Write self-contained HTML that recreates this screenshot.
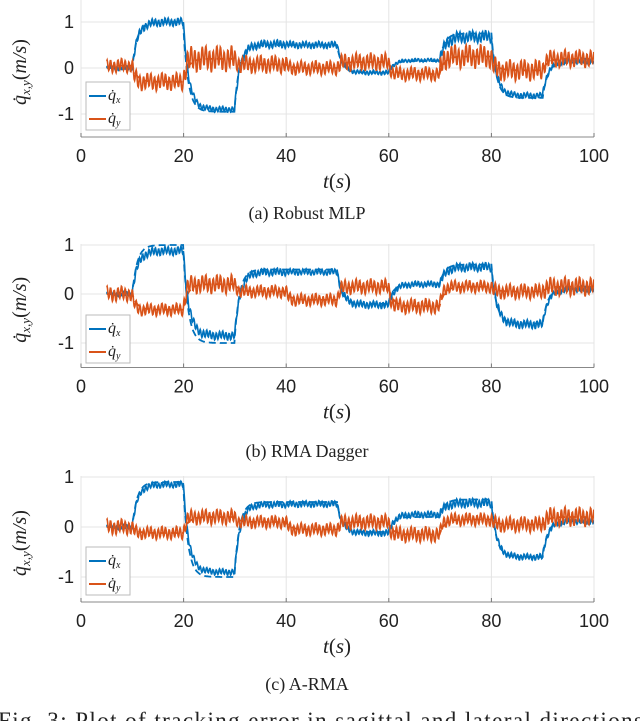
<!DOCTYPE html>
<html><head><meta charset="utf-8"><style>
body{margin:0;background:#fff;width:640px;height:721px;overflow:hidden}
svg{display:block}
</style></head><body>
<svg id="fig" width="640" height="721" xmlns="http://www.w3.org/2000/svg" font-family="Liberation Sans, sans-serif"></svg>
<script>
// segment boundaries (s)
const segStarts=[5,10,20,30,40,50,60,70,80,90];
const xTicks=[0,20,40,60,80,100];
const yTicks=[-1,0,1];
// Robust MLP
const cmdX1=[0,1,-0.95,0.5,0.5,-0.1,0.15,0.75,-0.65,0.12];
const actX1=[0,1.0,-0.9,0.52,0.5,-0.1,0.17,0.68,-0.6,0.15];
const actY1=[0.05,-0.3,0.2,0.08,0,0.13,-0.13,0.25,-0.05,0.2];
const ampX1=[0.04,0.07,0.05,0.07,0.06,0.04,0.03,0.1,0.05,0.05];
const ampY1=[0.12,0.15,0.22,0.15,0.12,0.15,0.12,0.2,0.18,0.15];
// RMA Dagger
const cmdX2=[0,1,-1,0.5,0.5,-0.2,0.2,0.6,-0.6,0.1];
const actX2=[0,0.88,-0.85,0.45,0.45,-0.22,0.2,0.55,-0.62,0.1];
const actY2=[0,-0.32,0.2,0.05,-0.12,0.15,-0.25,0.15,0.05,0.15];
const ampX2=[0.04,0.07,0.07,0.06,0.05,0.06,0.05,0.07,0.07,0.05];
const ampY2=[0.12,0.1,0.15,0.1,0.1,0.12,0.12,0.1,0.12,0.15];
// A-RMA
const cmdX3=[0,0.9,-1,0.5,0.5,-0.1,0.2,0.55,-0.6,0.12];
const actX3=[0,0.85,-0.9,0.45,0.46,-0.12,0.25,0.48,-0.6,0.12];
const actY3=[0,-0.12,0.2,0.1,-0.05,0.1,-0.15,0.15,0.05,0.2];
const ampX3=[0.04,0.05,0.05,0.05,0.05,0.05,0.05,0.07,0.05,0.05];
const ampY3=[0.12,0.1,0.12,0.1,0.1,0.12,0.12,0.1,0.12,0.15];

const NS="http://www.w3.org/2000/svg";
const svg=document.getElementById('fig');
function mk(tag,attrs,parent){const e=document.createElementNS(NS,tag);for(const k in attrs)e.setAttribute(k,attrs[k]);(parent||svg).appendChild(e);return e;}
const X0=81,X1=594;
function xs(t){return X0+(t-0)/(100)*(X1-X0);}
function segVal(arr,t){let i=0;for(let k=0;k<segStarts.length;k++)if(t>=segStarts[k])i=k;return i;}
function series(levels,amps,f1,phase,tau){
  const pts=[];let cur=0;
  for(let t=5;t<=100.001;t+=0.08){
    const i=segVal(levels,t);
    const target=levels[i];
    cur+= (target-cur)*(0.08/tau);
    const a=amps[i];
    const r=a*Math.sin(2*Math.PI*f1*t+phase)+a*0.35*Math.sin(2*Math.PI*0.37*t+phase*2);
    pts.push([t,cur+r]);
  }
  return pts;
}
function cmdSeries(levels){
  const pts=[];let cur=0;
  for(let t=5;t<=100.001;t+=0.1){const i=segVal(levels,t);cur+=(levels[i]-cur)*0.1;pts.push([t,cur]);}
  return pts;
}
function plot(cfg){
  const g=mk('g',{});
  
  
  const ys=v=>cfg.y0-v*cfg.k;
  const top=ys(cfg.ymax),bot=ys(-1.5);
  const clipId='c'+cfg.name;
  const cp=mk('clipPath',{id:clipId},g);mk('rect',{x:X0,y:top,width:X1-X0,height:bot-top},cp);
  xTicks.forEach(t=>{const l=mk('line',{x1:xs(t),x2:xs(t),y1:top,y2:bot,stroke:'#e4e4e4','stroke-width':1},g);});
  yTicks.forEach(v=>{const l=mk('line',{x1:X0,x2:X1,y1:ys(v),y2:ys(v),stroke:'#e4e4e4','stroke-width':1},g);});
  const ax=mk('line',{x1:X0,x2:X1,y1:bot,y2:bot,stroke:'#888','stroke-width':1},g);
  
  xTicks.forEach(t=>{mk('line',{x1:xs(t),x2:xs(t),y1:bot,y2:bot-4,stroke:'#777'},g);
    const tx=mk('text',{x:xs(t),y:bot+25,'font-size':18,'text-anchor':'middle',fill:'#222'},g);tx.textContent=t;
    });
  yTicks.forEach(v=>{const tx=mk('text',{x:74,y:ys(v)+6,'font-size':18,'text-anchor':'end',fill:'#222'},g);tx.textContent=v;
    });
  const lines=mk('g',{'clip-path':'url(#'+clipId+')'},g);
  const path=(pts,color,dash,w)=>mk('path',{d:'M'+pts.map(q=>xs(q[0]).toFixed(1)+','+ys(q[1]).toFixed(1)).join('L'),fill:'none',stroke:color,'stroke-width':w,'stroke-dasharray':dash||'none'},lines);
  const cx=path(cmdSeries(cfg.cmdX),'#0072BD','7,4',1.8);
  const cy=path(cmdSeries(cfg.actY),'#D95319','7,4',1.8);
  const px=path(series(cfg.actX,cfg.ampX,1.6,0.3,1.1),'#0072BD',null,1.6);
  const py=path(series(cfg.actY,cfg.ampY,1.4,1.1,0.5),'#D95319',null,1.6);
  const yl=mk('text',{transform:`translate(26,${(top+bot)/2+4}) rotate(-90)`,'font-size':20,'text-anchor':'middle','font-family':'Liberation Serif, serif','font-style':'italic',fill:'#222'},g);
  yl.innerHTML='q̇<tspan font-size="13" dy="4">x,y</tspan><tspan dy="-4" font-style="normal">(</tspan>m/s<tspan font-style="normal">)</tspan>';
  
  const xl=mk('text',{x:337,y:bot+51,'font-size':21,'text-anchor':'middle','font-family':'Liberation Serif, serif','font-style':'italic',fill:'#222'},g);
  xl.innerHTML='t<tspan font-style="normal">(</tspan>s<tspan font-style="normal">)</tspan>';
  
  const lg=mk('g',{},g);
  mk('rect',{x:86,y:cfg.ly,width:44,height:48,fill:'#fff',stroke:'#bbb'},lg);
  [['#0072BD','x',14],['#D95319','y',37]].forEach(([c,s,dy])=>{
    const e=mk('g',{},lg);
    mk('line',{x1:89,x2:106,y1:cfg.ly+dy,y2:cfg.ly+dy,stroke:c,'stroke-width':2},e);
    const t=mk('text',{x:108,y:cfg.ly+dy+4,'font-size':16,'font-family':'Liberation Serif, serif','font-style':'italic',fill:'#222'},e);
    t.innerHTML='q̇<tspan font-size="10" dy="3">'+s+'</tspan>';
  });
  const cap=mk('text',{x:307,y:cfg.capY,'font-size':18,'text-anchor':'middle','font-family':'Liberation Serif, serif',fill:'#222'},g);
  cap.textContent=cfg.caption;
}
plot({name:'robust-mlp-plot',y0:68,k:46,ymax:1.5,cmdX:cmdX1,actX:actX1,actY:actY1,ampX:ampX1,ampY:ampY1,ly:82,capY:219,caption:'(a) Robust MLP'});
plot({name:'rma-dagger-plot',y0:294,k:49,ymax:1.02,cmdX:cmdX2,actX:actX2,actY:actY2,ampX:ampX2,ampY:ampY2,ly:315,capY:457,caption:'(b) RMA Dagger'});
plot({name:'a-rma-plot',y0:527,k:50,ymax:1.02,cmdX:cmdX3,actX:actX3,actY:actY3,ampX:ampX3,ampY:ampY3,ly:547,capY:690,caption:'(c) A-RMA'});
const fc=mk('text',{x:-2,y:728,'font-size':23,'font-family':'Liberation Serif, serif',fill:'#222',textLength:645,lengthAdjust:'spacing'});
fc.textContent='Fig. 3: Plot of tracking error in sagittal and lateral directions';

</script>
</body></html>
